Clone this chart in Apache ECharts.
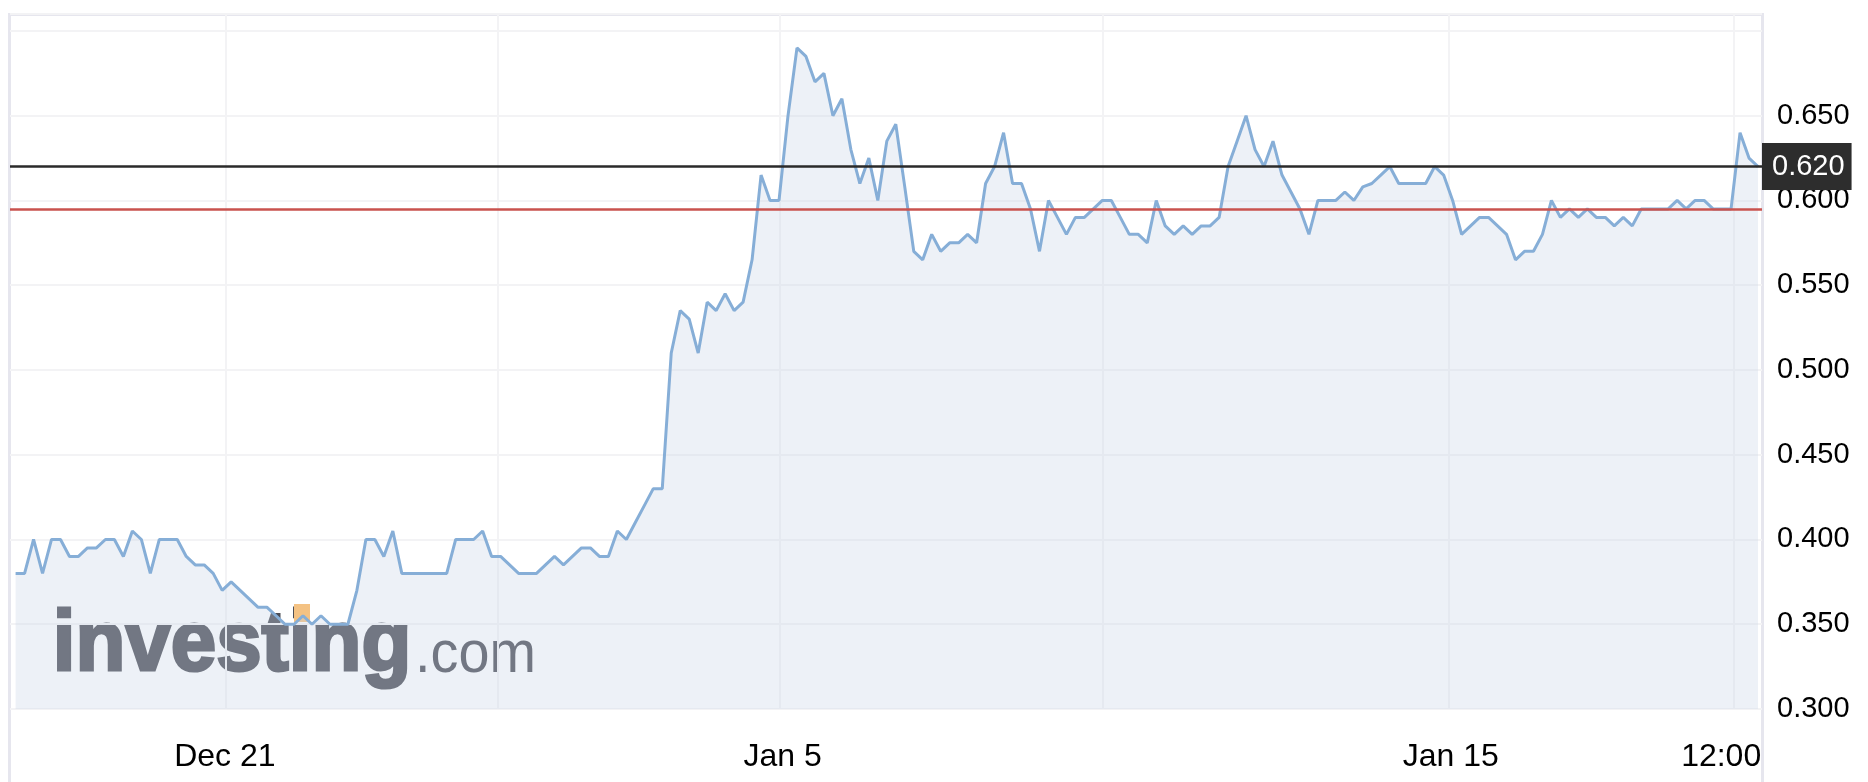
<!DOCTYPE html>
<html><head><meta charset="utf-8">
<script src="https://cdn.jsdelivr.net/npm/echarts@6/dist/echarts.min.js"></script>
<style>html,body{margin:0;padding:0;background:#fff}#c{width:1868px;height:782px}</style>
</head><body><div id="c"></div>
<script>
// price series, one value per sampled period (index = position on the x axis)
const prices = [
  0.380,0.380,0.400,0.380,0.400,0.400,0.390,0.390,0.395,0.395,
  0.400,0.400,0.390,0.405,0.400,0.380,0.400,0.400,0.400,0.390,
  0.385,0.385,0.380,0.370,0.375,0.370,0.365,0.360,0.360,0.355,
  0.350,0.350,0.355,0.350,0.355,0.350,0.350,0.350,0.370,0.400,
  0.400,0.390,0.405,0.380,0.380,0.380,0.380,0.380,0.380,0.400,
  0.400,0.400,0.405,0.390,0.390,0.385,0.380,0.380,0.380,0.385,
  0.390,0.385,0.390,0.395,0.395,0.390,0.390,0.405,0.400,0.410,
  0.420,0.430,0.430,0.510,0.535,0.530,0.510,0.540,0.535,0.545,
  0.535,0.540,0.565,0.615,0.600,0.600,0.650,0.690,0.685,0.670,
  0.675,0.650,0.660,0.630,0.610,0.625,0.600,0.635,0.645,0.608,
  0.570,0.565,0.580,0.570,0.575,0.575,0.580,0.575,0.610,0.620,
  0.640,0.610,0.610,0.595,0.570,0.600,0.590,0.580,0.590,0.590,
  0.595,0.600,0.600,0.590,0.580,0.580,0.575,0.600,0.585,0.580,
  0.585,0.580,0.585,0.585,0.590,0.620,0.635,0.650,0.630,0.620,
  0.635,0.615,0.605,0.595,0.580,0.600,0.600,0.600,0.605,0.600,
  0.608,0.610,0.615,0.620,0.610,0.610,0.610,0.610,0.620,0.615,
  0.600,0.580,0.585,0.590,0.590,0.585,0.580,0.565,0.570,0.570,
  0.580,0.600,0.590,0.595,0.590,0.595,0.590,0.590,0.585,0.590,
  0.585,0.595,0.595,0.595,0.595,0.600,0.595,0.600,0.600,0.595,
  0.595,0.595,0.640,0.625,0.620
];
const lastPrice = 0.620;      // black current-price line
const refLevel = 0.595;       // red reference line
const gridTickPos = [23.36, 53.69, 85.07, 121.08, 159.56, 191.34];
const xLabelPos = [23.3, 85.4, 159.8, 189.9];
const xLabelText = ['Dec 21', 'Jan 5', 'Jan 15', '12:00'];
const yMin = 0.30, yMax = 0.71, yStep = 0.05, yLabelMax = 0.65;

const FONT = '"Liberation Sans", Arial, Helvetica, sans-serif';
const chart = echarts.init(document.getElementById('c'), null, {renderer: 'canvas'});
const seriesData = prices.map((v, i) => [i, v]);

chart.setOption({
  animation: false,
  backgroundColor: '#ffffff',
  grid: {left: 10, right: 106, top: 14, bottom: 73, containLabel: false},
  xAxis: {
    type: 'value', min: -0.624, max: 194.445, z: 1,
    axisLine: {show: false},
    axisTick: {show: false, customValues: gridTickPos},
    splitLine: {show: true, lineStyle: {color: '#f3f3f5', width: 2}},
    axisLabel: {
      customValues: xLabelPos,
      margin: 32,
      fontSize: 32, fontFamily: FONT, color: '#000',
      formatter: function (v) {
        for (let k = 0; k < xLabelPos.length; k++) {
          if (Math.abs(xLabelPos[k] - v) < 0.01) return xLabelText[k];
        }
        return '';
      }
    }
  },
  yAxis: {
    type: 'value', position: 'right', min: yMin, max: yMax, interval: yStep, z: 1,
    axisLine: {show: false}, axisTick: {show: false},
    splitLine: {show: true, lineStyle: {color: '#f3f3f5', width: 2}},
    axisLabel: {
      margin: 15, fontSize: 29, fontFamily: FONT, color: '#000',
      formatter: function (v) { return v > yLabelMax + 1e-9 ? '' : v.toFixed(3); }
    }
  },
  graphic: [
    {type: 'text', x: 52.7, y: 646, scaleX: 0.95, z: 0,
      style: {text: 'investing', fill: '#4b4d55', stroke: '#4b4d55', lineWidth: 3,
        font: 'bold 86px ' + FONT, align: 'left', verticalAlign: 'middle'}},
    {type: 'text', x: 415, y: 655, scaleX: 0.93, z: 0,
      style: {text: '.com', fill: '#4b4d55', font: '60px ' + FONT, align: 'left', verticalAlign: 'middle'}},
    {type: 'rect', shape: {x: 294, y: 604, width: 16, height: 18}, z: 0.5, style: {fill: '#f4c283'}},
    {type: 'rect', shape: {x: 8, y: 13, width: 1756, height: 3}, z: 1, style: {fill: '#e6e6ee'}},
    {type: 'rect', shape: {x: 8, y: 13, width: 3, height: 769}, z: 1, style: {fill: '#e6e6ee'}},
    {type: 'rect', shape: {x: 1761, y: 13, width: 3, height: 769}, z: 1, style: {fill: '#e6e6ee'}}
  ],
  series: [{
    type: 'line', data: seriesData, z: 2,
    symbol: 'none', smooth: false,
    lineStyle: {color: '#86aed7', width: 3},
    areaStyle: {color: 'rgba(198,210,230,0.45)', origin: 'start'},
    markLine: {
      silent: true, symbol: 'none', animation: false, precision: 3,
      data: [
        {yAxis: refLevel, lineStyle: {color: '#c9524e', width: 2.5, type: 'solid'}, label: {show: false}},
        {yAxis: lastPrice, lineStyle: {color: '#2a2a2a', width: 2.5, type: 'solid'},
          label: {show: true, position: 'end', distance: 0, formatter: lastPrice.toFixed(3),
            color: '#fff', backgroundColor: '#2d2d2d', fontSize: 29, fontFamily: FONT,
            padding: [9, 7, 9, 10]}}
      ]
    }
  }]
});
</script></body></html>
